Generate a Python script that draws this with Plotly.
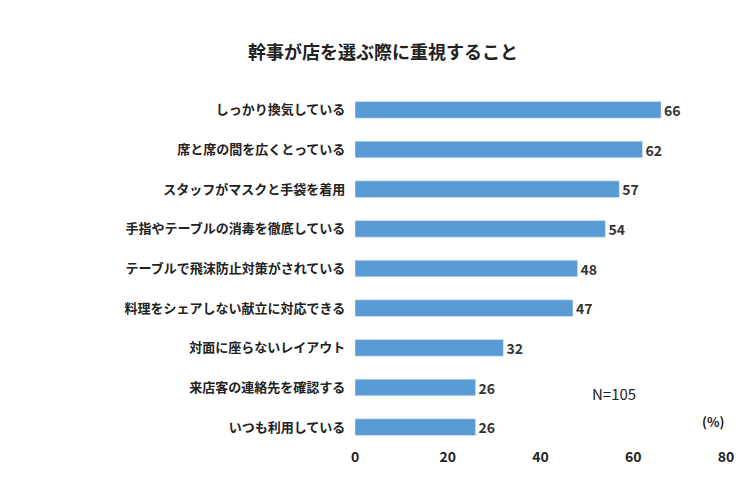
import plotly.graph_objects as go

categories = ["しっかり換気している", "席と席の間を広くとっている", "スタッフがマスクと手袋を着用",
              "手指やテーブルの消毒を徹底している", "テーブルで飛沫防止対策がされている",
              "料理をシェアしない献立に対応できる", "対面に座らないレイアウト",
              "来店客の連絡先を確認する", "いつも利用している"]
values = [66, 62, 57, 54, 48, 47, 32, 26, 26]

L, R, T, B = 347, 32, 82, 61
fig = go.Figure(go.Bar(
    x=values, y=["<b>%s</b>" % c for c in categories], orientation="h", width=0.42,
    marker_color="#5B9BD5", text=["<b>%d</b>" % v for v in values], textposition="outside",
    constraintext="none",
    textfont=dict(size=14, color="#333", family="Noto Sans CJK JP"),
    cliponaxis=False))
pw, ph = 750 - L - R, 500 - T - B
fig.update_layout(
    width=750, height=500, plot_bgcolor="white", paper_bgcolor="white",
    margin=dict(l=L, r=R, t=T, b=B),
    font=dict(family="Noto Sans CJK JP", size=13, color="#222"),
    title=dict(text="<b>幹事が店を選ぶ際に重視すること</b>", x=0.5, xanchor="center",
               y=0.91, yanchor="middle", font=dict(size=18, color="#222")),
    showlegend=False,
    xaxis=dict(range=[0, 80], dtick=20, showgrid=False, zeroline=False, showline=False,
               tickfont=dict(size=14, family="Noto Sans CJK JP"), ticks="",
               tickprefix="<b>", ticksuffix="</b>"),
    yaxis=dict(autorange="reversed", showgrid=False, showline=False, ticks="",
               ticksuffix="   ", tickfont=dict(size=13)),
    annotations=[
        dict(text="N=105", x=(630 - L) / pw, y=1 - (398 - T) / ph, xref="paper", yref="paper",
             showarrow=False, font=dict(size=15)),
        dict(text="<b>(%)</b>", x=(718 - L) / pw, y=1 - (425 - T) / ph, xref="paper", yref="paper",
             showarrow=False, font=dict(size=13)),
    ])
fig.write_html("out.html")
